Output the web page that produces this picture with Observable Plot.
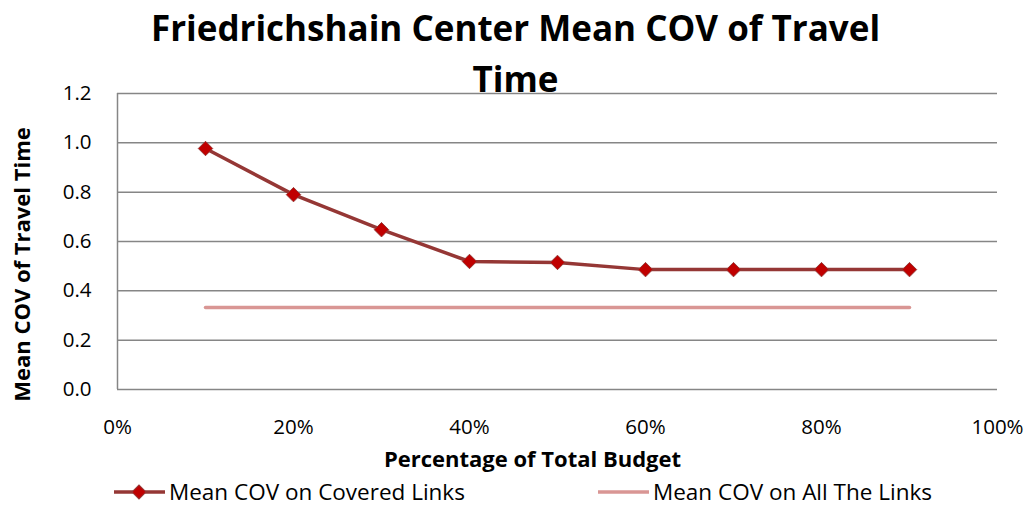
<!DOCTYPE html>
<html><head><meta charset="utf-8">
<script src="https://cdn.jsdelivr.net/npm/d3@7"></script>
<script src="https://cdn.jsdelivr.net/npm/@observablehq/plot@0.6"></script>
<style>
body{margin:0;background:#fff;}
#wrap{position:relative;width:1031px;height:506px;font-family:"Open Sans",sans-serif;overflow:hidden;}
#title{position:absolute;left:0;top:2px;width:1031px;text-align:center;font-weight:bold;font-size:35px;line-height:51px;color:#000;}
#legend{position:absolute;left:0;top:478px;width:1031px;height:28px;font-size:22.5px;line-height:28px;color:#000;}
.li{position:absolute;top:0;height:28px;display:flex;align-items:center;white-space:nowrap;}
</style></head>
<body><div id="wrap">
<div id="chart"></div>
<div id="title">Friedrichshain Center Mean COV of Travel<br>Time</div>
<div id="legend"></div>
</div>
<script>
const budget = [0.1,0.2,0.3,0.4,0.5,0.6,0.7,0.8,0.9];
const covered = [0.977,0.79,0.648,0.519,0.515,0.486,0.486,0.486,0.486];
const allLinks = [0.332,0.332,0.332,0.332,0.332,0.332,0.332,0.332,0.332];
const xTicks = [0,0.2,0.4,0.6,0.8,1.0];
const yTicks = [0,0.2,0.4,0.6,0.8,1.0,1.2];
const seriesNames = ["Mean COV on Covered Links","Mean COV on All The Links"];

const darkRed = "#953735", markFill = "#C00000", pink = "#D99694";
const cov = budget.map((b,i)=>({b, v:covered[i]}));
const all = budget.map((b,i)=>({b, v:allLinks[i]}));

const chart = Plot.plot({
  width:1031, height:506,
  marginTop:93, marginBottom:117, marginLeft:117, marginRight:34,
  style:{fontFamily:"Open Sans, sans-serif", fontSize:"20.5px", color:"#000", background:"#fff"},
  x:{domain:[0,1], ticks:xTicks, tickFormat:d=>Math.round(d*100)+"%", tickSize:0, tickPadding:30,
     label:"Percentage of Total Budget", labelAnchor:"center", labelArrow:"none", labelOffset:77},
  y:{domain:[0,1.2], ticks:yTicks, tickFormat:d=>d.toFixed(1), tickSize:0, tickPadding:26,
     label:"Mean COV of Travel Time", labelAnchor:"center", labelArrow:"none", labelOffset:103},
  marks:[
    Plot.ruleY(yTicks, {stroke:"#868686", strokeWidth:1.5}),
    Plot.ruleX([0], {stroke:"#868686", strokeWidth:1.5}),
    Plot.line(all, {x:"b", y:"v", stroke:pink, strokeWidth:3.5}),
    Plot.line(cov, {x:"b", y:"v", stroke:darkRed, strokeWidth:3.5}),
    Plot.dot(cov, {x:"b", y:"v", symbol:"diamond2", r:6.5, fill:markFill, stroke:darkRed, strokeWidth:1})
  ]
});
document.getElementById("chart").appendChild(chart);
// style and shift axis labels (append to existing transforms)
function shift(sel, dx, dy){
  const g = d3.select(chart).select(sel);
  if (g.empty()) return;
  const t = g.attr("transform") || "";
  g.attr("transform", `translate(${dx},${dy}) ` + t);
  g.style("font-weight","bold").style("font-size","22px");
}
shift("g[aria-label='x-axis label']", -25, 0);
shift("g[aria-label='y-axis label']", 0, 23);

const leg = document.getElementById("legend");
const items = [
  {name:seriesNames[0], left:113, color:darkRed, marker:true},
  {name:seriesNames[1], left:597, color:pink, marker:false}
];
items.forEach(it=>{
  const d = document.createElement("div");
  d.className="li"; d.style.left=it.left+"px";
  const s = d3.create("svg").attr("width",54).attr("height",28);
  s.append("line").attr("x1",1).attr("x2",52).attr("y1",14).attr("y2",14).attr("stroke",it.color).attr("stroke-width",3.5);
  if(it.marker) s.append("path").attr("d",d3.symbol(d3.symbolSquare,100)()).attr("transform","translate(26,14) rotate(45)").attr("fill",markFill).attr("stroke",darkRed);
  d.appendChild(s.node());
  const t = document.createElement("span"); t.textContent=it.name; t.style.marginLeft="2px";
  d.appendChild(t);
  leg.appendChild(d);
});
</script>
</body></html>
